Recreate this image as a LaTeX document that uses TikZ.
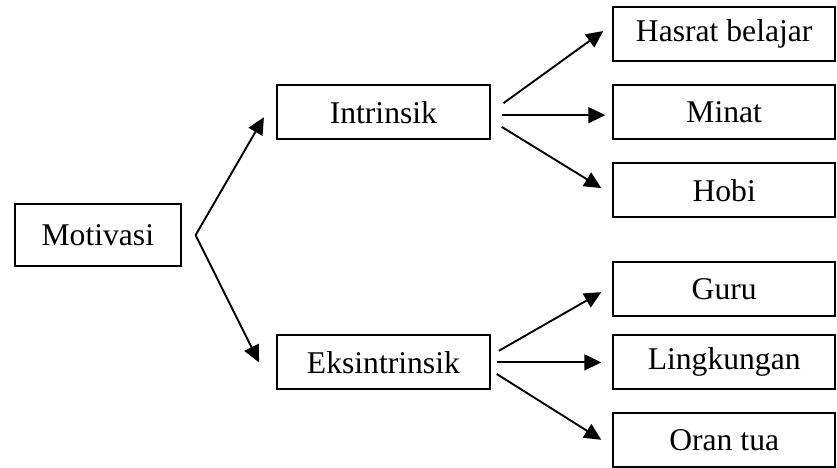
\documentclass[tikz,border=0pt]{standalone}
\usepackage{fontspec}
\setmainfont{Liberation Serif}
\usepackage{tikz}
\usetikzlibrary{arrows.meta}

\begin{document}
\begin{tikzpicture}[
    box/.style={
        rectangle,
        draw=black,
        line width=0.9pt,
        inner sep=0pt,
        minimum height=0.9cm,
        font=\fontsize{15}{18}\selectfont
    },
    leaf/.style={box, minimum width=3.7cm},
    arrow/.style={-{Triangle[length=8pt, width=7.5pt]}, line width=0.9pt}
]

\useasboundingbox (0, 0) rectangle (13.95, 7.8);

% Root
\node[box, minimum width=2.77cm, minimum height=1.03cm] (motivasi) at (1.63, 3.88) {Motivasi};

% Middle level
\node[box, minimum width=3.55cm] (intrinsik) at (6.39, 5.93) {Intrinsik};
\node[box, minimum width=3.55cm] (eksintrinsik) at (6.39, 1.76) {Eksintrinsik};

% Intrinsik leaves
\node[leaf] (hasrat) at (12.07, 7.24) {Hasrat belajar};
\node[leaf] (minat) at (12.07, 5.93) {Minat};
\node[leaf] (hobi) at (12.07, 4.63) {Hobi};

% Eksintrinsik leaves
\node[leaf] (guru) at (12.07, 2.98) {Guru};
\node[leaf] (lingkungan) at (12.07, 1.76) {Lingkungan};
\node[leaf] (orangtua) at (12.07, 0.47) {Oran tua};

% Arrows
\draw[arrow] ([xshift=6.5pt]motivasi.east) -- ([xshift=-5.7pt, yshift=-2.4pt]intrinsik.west);
\draw[arrow] ([xshift=6.5pt]motivasi.east) -- ([xshift=-8pt]eksintrinsik.west);

\draw[arrow] ([xshift=6pt, yshift=4.3pt]intrinsik.east) -- ([xshift=-4.3pt, yshift=1.2pt]hasrat.west);
\draw[arrow] ([xshift=5.2pt, yshift=-1.4pt]intrinsik.east) -- ([xshift=-3.3pt, yshift=-1.4pt]minat.west);
\draw[arrow] ([xshift=5.2pt, yshift=-7pt]intrinsik.east) -- ([xshift=-5.2pt, yshift=1pt]hobi.west);

\draw[arrow] ([xshift=3.8pt, yshift=5.5pt]eksintrinsik.east) -- ([xshift=-5.2pt, yshift=-1.4pt]guru.west);
\draw[arrow] ([xshift=2.8pt]eksintrinsik.east) -- ([xshift=-5.2pt]lingkungan.west);
\draw[arrow] ([xshift=2.8pt, yshift=-5.5pt]eksintrinsik.east) -- ([xshift=-5.2pt]orangtua.west);

\end{tikzpicture}
\end{document}
